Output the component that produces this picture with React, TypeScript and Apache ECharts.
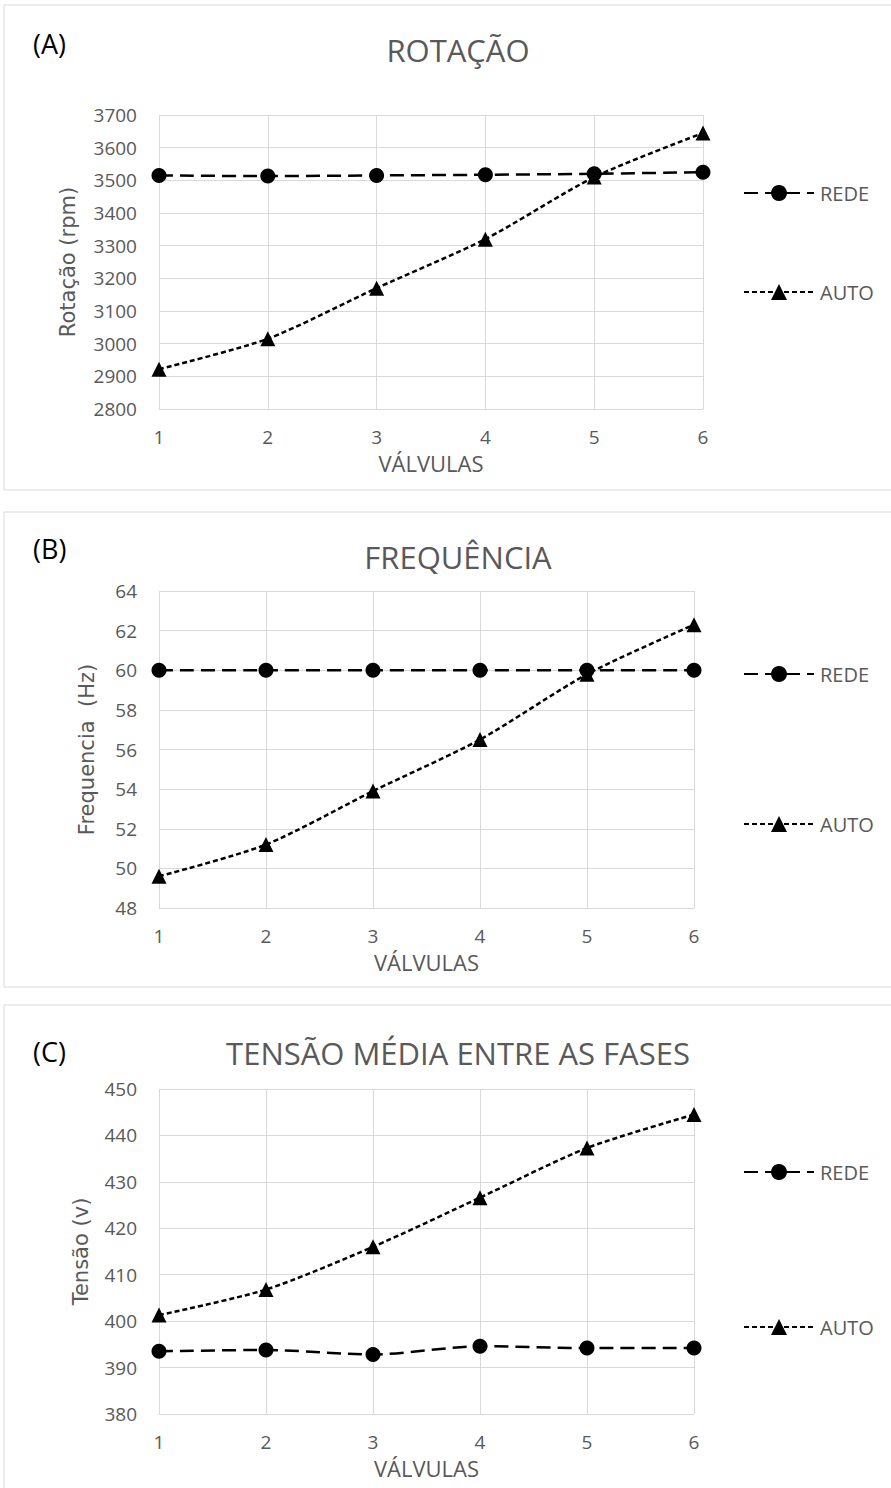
import React, { useEffect, useRef } from "react";
import * as echarts from "echarts";

const valvulas = ["1", "2", "3", "4", "5", "6"];

const rotRede = [3515, 3513, 3515, 3517, 3520, 3525];
const rotAuto = [2922, 3015, 3170, 3320, 3510, 3645];

const freqRede = [60, 60, 60, 60, 60, 60];
const freqAuto = [49.6, 51.2, 53.9, 56.5, 59.8, 62.3];

const tensRede = [393.5, 393.8, 392.8, 394.6, 394.2, 394.2];
const tensAuto = [401.3, 406.8, 416.0, 426.6, 437.3, 444.5];

const panels = [
  { tag: "(A)", title: "ROTAÇÃO", yName: "Rotação (rpm)", min: 2800, max: 3700, interval: 100, rede: rotRede, auto: rotAuto },
  { tag: "(B)", title: "FREQUÊNCIA", yName: "Frequencia  (Hz)", min: 48, max: 64, interval: 2, rede: freqRede, auto: freqAuto },
  { tag: "(C)", title: "TENSÃO MÉDIA ENTRE AS FASES", yName: "Tensão (v)", min: 380, max: 450, interval: 10, rede: tensRede, auto: tensAuto },
];

const layout = [
  { box: [4, 5, 900, 485], grid: { left: 159, right: 188, top: 115, height: 294 }, tagY: 25, titleY: 29, legendTop: 178, legendGap: 79, nameGap: 81 },
  { box: [4, 512, 900, 475], grid: { left: 159, right: 197, top: 591, height: 317 }, tagY: 530, titleY: 536, legendTop: 659, legendGap: 130, nameGap: 62 },
  { box: [4, 1005, 900, 500], grid: { left: 159, right: 197, top: 1089, height: 325 }, tagY: 1033, titleY: 1032, legendTop: 1157, legendGap: 135, nameGap: 68 },
];

const FONT = "'Open Sans', sans-serif";
const GREY = "#595959";

export default function App() {
  const ref = useRef<HTMLDivElement>(null);
  useEffect(() => {
    document.body.style.margin = "0";
    const chart = echarts.init(ref.current!, null, { renderer: "svg" });
    const grid: any[] = [];
    const xAxis: any[] = [];
    const yAxis: any[] = [];
    const series: any[] = [];
    const title: any[] = [];
    const legend: any[] = [];
    const graphic: any[] = [];
    panels.forEach((p, i) => {
      const L = layout[i];
      graphic.push({
        type: "rect",
        shape: { x: L.box[0], y: L.box[1], width: L.box[2], height: L.box[3] },
        style: { fill: "#fff", stroke: "#d9d9d9", lineWidth: 1 },
        z: -10,
      });
      grid.push({ ...L.grid });
      xAxis.push({
        type: "category",
        gridIndex: i,
        data: valvulas,
        boundaryGap: false,
        name: "VÁLVULAS",
        nameLocation: "middle",
        nameGap: 43,
        nameTextStyle: { color: GREY, fontSize: 22, fontFamily: FONT },
        axisLine: { lineStyle: { color: "#d9d9d9" } },
        axisTick: { show: false },
        axisLabel: { color: GREY, fontSize: 19, fontFamily: FONT, margin: 18 },
        splitLine: { show: true, lineStyle: { color: "#d9d9d9" } },
      });
      yAxis.push({
        type: "value",
        gridIndex: i,
        min: p.min,
        max: p.max,
        interval: p.interval,
        name: p.yName,
        nameLocation: "middle",
        nameGap: L.nameGap,
        nameTextStyle: { color: GREY, fontSize: 21, fontFamily: "'DejaVu Sans', sans-serif" },
        axisLine: { show: false },
        axisTick: { show: false },
        axisLabel: { color: GREY, fontSize: 19, fontFamily: FONT, margin: 22, formatter: (v: number) => String(v) },
        splitLine: { show: true, lineStyle: { color: "#d9d9d9" } },
      });
      series.push({
        name: "REDE",
        type: "line",
        xAxisIndex: i,
        yAxisIndex: i,
        data: p.rede,
        smooth: 0.25,
        symbol: "circle",
        symbolSize: 15,
        itemStyle: { color: "#000" },
        lineStyle: { color: "#000", width: 2.5, type: [14, 7] },
      });
      series.push({
        name: "AUTO",
        type: "line",
        xAxisIndex: i,
        yAxisIndex: i,
        data: p.auto,
        smooth: 0.25,
        symbol: "triangle",
        symbolSize: 15,
        itemStyle: { color: "#000" },
        lineStyle: { color: "#000", width: 2.5, type: [5, 3] },
      });
      title.push({
        text: p.tag,
        left: 28,
        top: L.tagY,
        textStyle: { color: "#000", fontSize: 27, fontWeight: "normal", fontFamily: FONT },
      });
      title.push({
        text: p.title,
        left: 453,
        top: L.titleY,
        textAlign: "center",
        textStyle: { color: GREY, fontSize: 31, fontWeight: "normal", fontFamily: FONT },
      });
      legend.push({
        data: ["REDE", "AUTO"],
        orient: "vertical",
        left: 738,
        top: L.legendTop,
        itemWidth: 70,
        itemHeight: 20,
        itemGap: L.legendGap,
        textStyle: { color: GREY, fontSize: 20, fontFamily: FONT, padding: [0, 0, 0, 1] },
        selectedMode: false,
      });
    });
    chart.setOption({
      animation: false,
      backgroundColor: "#fff",
      graphic,
      title,
      legend,
      grid,
      xAxis,
      yAxis,
      series,
    });
    return () => chart.dispose();
  }, []);
  return <div ref={ref} style={{ width: 891, height: 1488, position: "absolute", left: 0, top: 0 }} />;
}
